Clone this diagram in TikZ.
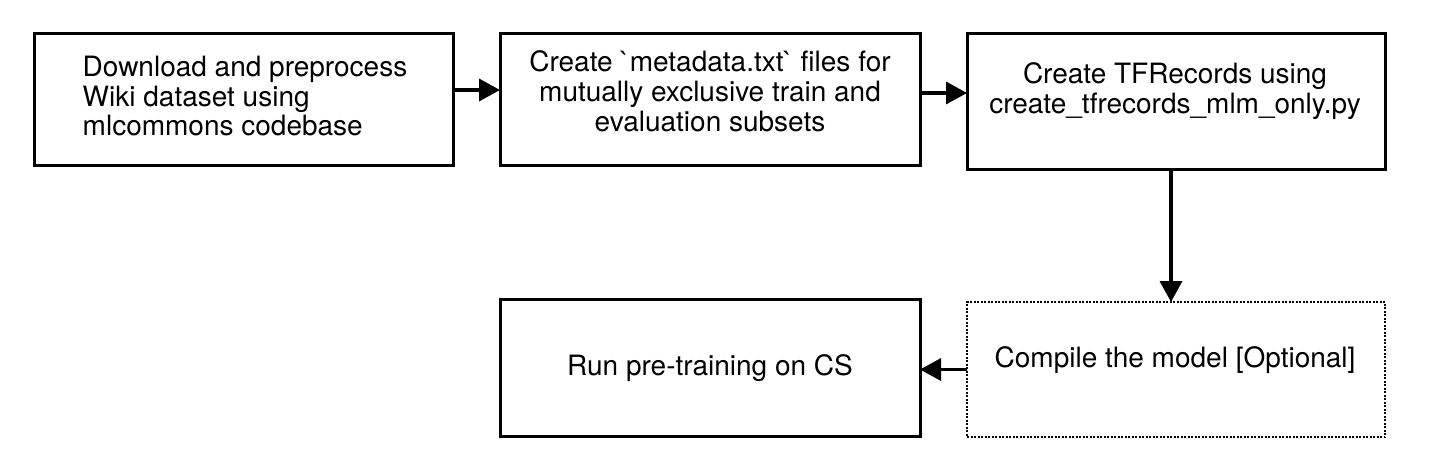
\documentclass[tikz,border=0pt]{standalone}
\usepackage{fontspec}
\setmainfont{TeX Gyre Heros}
\usetikzlibrary{arrows.meta}
\begin{document}
\begin{tikzpicture}[x=1pt,y=-1pt,
  box/.style={draw=black, line width=3pt, inner sep=0pt, outer sep=0pt, fill=white},
  dotbox/.style={box, line width=2.8pt, dash pattern=on 2pt off 1.5pt},
  txt/.style={font=\fontsize{28}{29.8}\selectfont, inner sep=0pt},
  arr/.style={draw=black, line width=3.5pt, -{Triangle[length=21pt,width=22pt]}}]
\useasboundingbox[fill=white] (0,0) rectangle (1434,464);
% boxes
\node[box, minimum width=419pt, minimum height=132pt] (b1) at (243.5,99) {};
\node[box, minimum width=420pt, minimum height=132pt] (b2) at (710,99) {};
\node[box, minimum width=418pt, minimum height=136pt] (b3) at (1176,101) {};
\node[dotbox, minimum width=418pt, minimum height=135pt] (b4) at (1176,369.5) {};
\node[box, minimum width=420pt, minimum height=137pt] (b5) at (710,367.5) {};
% texts
\node[txt, align=left] (t1) at (245,96) {Download and preprocess\\Wiki dataset using\\mlcommons codebase};
\node[txt, align=center] (t2) at (710,91.5) {Create \textasciigrave metadata.txt\textasciigrave{} files for\\mutually exclusive train and\\evaluation subsets};
\node[txt, align=center] (t3) at (1175,91.4) {Create TFRecords using\\create\_tfrecords\_mlm\_only.py};
\node[txt, anchor=base] (t4) at (1175,367) {Compile the model [Optional]};
\node[txt, anchor=base] (t5) at (710,375) {Run pre-training on CS};
% connectors
\draw[arr] ([yshift=9pt]b1.east) -- ([yshift=9pt]b1.east -| b2.west);
\draw[arr] ([yshift=6pt]b2.east) -- ([yshift=6pt]b2.east -| b3.west);
\draw[arr] ([xshift=-5pt]b3.south) -- ([xshift=-5pt]b3.south |- b4.north);
\draw[arr] (b4.west) -- (b4.west -| b5.east);
\end{tikzpicture}
\end{document}
